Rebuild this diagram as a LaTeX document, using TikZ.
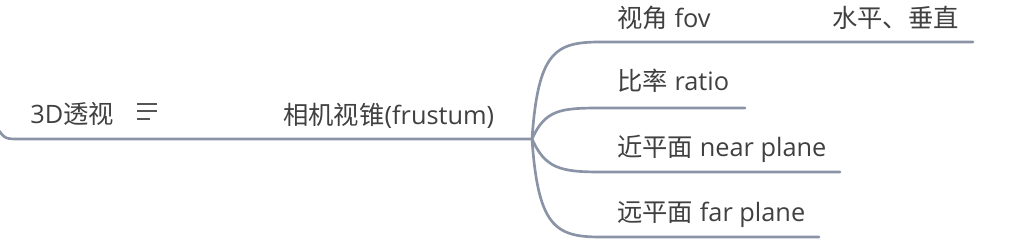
\documentclass[tikz,border=0pt]{standalone}
\usepackage{fontspec}
\setmainfont{Open Sans}
\newfontfamily\cjk{Noto Sans CJK SC}
\usetikzlibrary{calc}

\begin{document}
\begin{tikzpicture}[x=0.75pt,y=-0.75pt]
    % Define colours
    \definecolor{lineColour}{HTML}{8A94A6}
    \definecolor{textColour}{HTML}{404040}
    \definecolor{iconColour}{HTML}{555555}

    % Styles for the topics and the branches
    \tikzset{
      topic/.style={text=textColour, font=\fontsize{19}{23}\selectfont, inner sep=0pt, anchor=base west},
      branch/.style={draw=lineColour, line width=2pt, line cap=round},
      icon/.style={draw=iconColour, line width=1.5pt}
    }

    % Macros for the x position of the branch texts and lines
    \def\childX{617} % X part of the child texts
    \def\curveEnd{600} % where the curves turn level

  \useasboundingbox (0,0) rectangle (1028,252);

  % Topic texts
  \node[topic] (root) at (30,124) {3D{\cjk 透视}};
  \node[topic] (frustum) at (283,125) {{\cjk 相机视锥}(frustum)};
  \node[topic] (fov) at (\childX,28) {{\cjk 视角} fov};
  \node[topic] (hv) at (832,28) {{\cjk 水平、垂直}};
  \node[topic] (ratio) at (\childX,91) {{\cjk 比率} ratio};
  \node[topic] (near) at (\childX,157) {{\cjk 近平面} near plane};
  \node[topic] (far) at (\childX,222) {{\cjk 远平面} far plane};

  % Ends of the lines under the topics
  \coordinate (rootStart) at (-3,128);
  \coordinate (junction) at (532,139);
  \coordinate (fovStart) at (\curveEnd,42);
  \coordinate (fovEnd) at (973,42);
  \coordinate (ratioStart) at (\curveEnd,108);
  \coordinate (ratioEnd) at (745,108);
  \coordinate (nearStart) at (\curveEnd,172);
  \coordinate (nearEnd) at (840,172);
  \coordinate (farStart) at (\curveEnd,237);
  \coordinate (farEnd) at (819,237);

  % Line under the root and the first child
  \draw[branch] (rootStart) .. controls (5,139) .. (20,139) -- (junction);

  % Curves from the junction
  \draw[branch] (junction) .. controls (538,52) and (555,42) .. (fovStart) -- (fovEnd);
  \draw[branch] (junction) .. controls (545,110) and (560,108) .. (ratioStart) -- (ratioEnd);
  \draw[branch] (junction) .. controls (545,168) and (560,172) .. (nearStart) -- (nearEnd);
  \draw[branch] (junction) .. controls (538,226) and (555,237) .. (farStart) -- (farEnd);

  % Notes icon beside the root
  \coordinate (noteIcon) at (137,104);
  \draw[icon] (noteIcon) -- ++(20,0);
  \draw[icon] ($(noteIcon)+(0,7.5)$) -- ++(20,0);
  \draw[icon] ($(noteIcon)+(0,15)$) -- ++(13,0);

\end{tikzpicture}
\end{document}
